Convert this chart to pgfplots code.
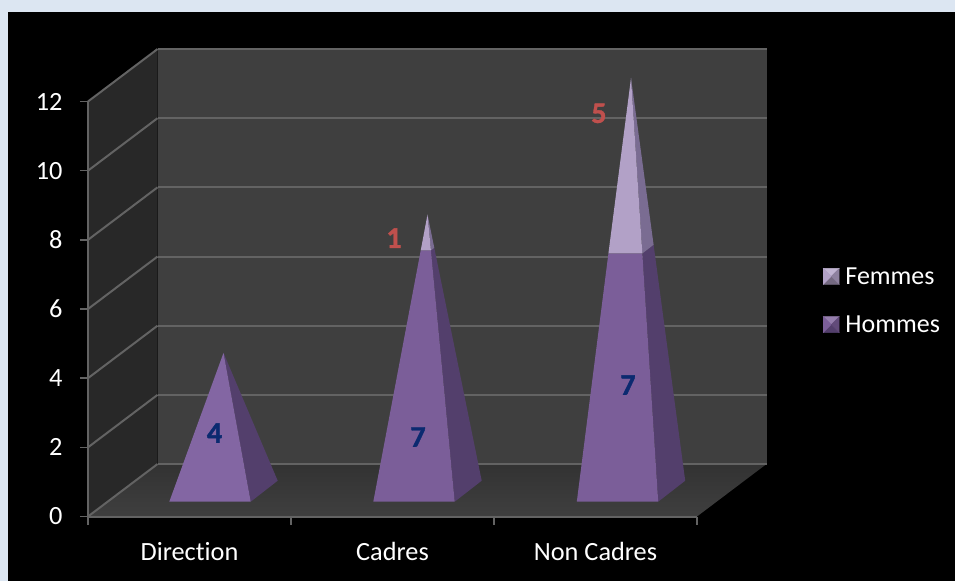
\documentclass[border=0pt]{standalone}
\usepackage{pgfplots}
\usepackage{fontspec}
\setmainfont[Ligatures=CommonOff]{Carlito}
\newfontfamily\lblfont[FakeBold=1.2]{Carlito Bold}
\pgfplotsset{compat=1.18}
\definecolor{pagebg}{HTML}{DCE6F2}
\definecolor{backwall}{HTML}{3F3F3F}
\definecolor{leftwall}{HTML}{282828}
\definecolor{gridc}{HTML}{636363}
\definecolor{homF}{HTML}{7B5E99}
\definecolor{homFa}{HTML}{8366A3}
\definecolor{homS}{HTML}{533F6C}
\definecolor{femF}{HTML}{B2A1C7}
\definecolor{femS}{HTML}{7A6C92}
\definecolor{lblblue}{HTML}{0B2A70}
\definecolor{lblred}{HTML}{C0504D}
\pgfplotsset{
  poly/.style={forget plot, draw=none, fill=#1, mark=none},
  gl/.style={forget plot, draw=gridc, line width=2pt, mark=none},
  pyrlegend/.style n args={4}{legend image code/.code={
    \fill[#1] (0pt,8pt) -- (16pt,8pt) -- (8pt,0pt) -- cycle;
    \fill[#2] (0pt,-8pt) -- (16pt,-8pt) -- (8pt,0pt) -- cycle;
    \fill[#3] (0pt,-8pt) -- (0pt,8pt) -- (8pt,0pt) -- cycle;
    \fill[#4] (16pt,-8pt) -- (16pt,8pt) -- (8pt,0pt) -- cycle;
  }},
}
\begin{document}
\begin{tikzpicture}[x=1pt,y=1pt]
\fill[pagebg] (0,0) rectangle (955,-581);
\fill[black] (8,-12) rectangle (955,-581);
\begin{axis}[
  at={(88pt,-516.5pt)}, anchor=south west,
  scale only axis, width=609pt, height=415pt,
  xmin=0, xmax=3, ymin=0, ymax=12,
  clip=false, axis on top,
  axis x line=bottom, axis y line=left,
  axis line style={draw=gridc, line width=2pt, -},
  tick style={draw=gridc, line width=1.6pt},
  major tick length=8pt,
  tick align=outside,
  xtick={0,1,2,3},
  x tick label as interval,
  xticklabels={Direction,Cadres,Non Cadres},
  ytick={0,2,4,6,8,10,12},
  /pgf/number format/assume math mode=true,
  tick label style={font=\fontsize{26.3}{30}\selectfont, text=white},
  xticklabel style={yshift=-14pt},
  yticklabel style={xshift=-14pt},
  legend style={at={(1.2066,0.5205)}, anchor=west, draw=none, fill=none,
    text=white, font=\fontsize{26}{30}\selectfont,
    inner sep=0pt, row sep=26pt, /tikz/every odd column/.style={column sep=4pt}},
  legend cell align=left,
]
% walls and floor
\addplot[poly=backwall] coordinates {(0.3424,1.517) (3.3424,1.517) (3.3424,13.517) (0.3424,13.517)} --cycle;
\addplot[poly=leftwall] coordinates {(0,0) (0.3424,1.517) (0.3424,13.517) (0,12)} --cycle;
\addplot[forget plot, draw=none, mark=none, top color=backwall!80!black, middle color=leftwall, bottom color=backwall] coordinates {(0,0) (3,0) (3.3424,1.517) (0.3424,1.517)} --cycle;
% grid on the back wall
\addplot[gl] coordinates {(0.3424,1.517) (3.3424,1.517)};
\addplot[gl] coordinates {(0.3424,3.517) (3.3424,3.517)};
\addplot[gl] coordinates {(0.3424,5.517) (3.3424,5.517)};
\addplot[gl] coordinates {(0.3424,7.517) (3.3424,7.517)};
\addplot[gl] coordinates {(0.3424,9.517) (3.3424,9.517)};
\addplot[gl] coordinates {(0.3424,11.517) (3.3424,11.517)};
\addplot[gl] coordinates {(0.3424,13.517) (3.3424,13.517)};
% grid on the left wall
\addplot[gl] coordinates {(0,0) (0.3424,1.517)};
\addplot[gl] coordinates {(0,2) (0.3424,3.517)};
\addplot[gl] coordinates {(0,4) (0.3424,5.517)};
\addplot[gl] coordinates {(0,6) (0.3424,7.517)};
\addplot[gl] coordinates {(0,8) (0.3424,9.517)};
\addplot[gl] coordinates {(0,10) (0.3424,11.517)};
\addplot[gl] coordinates {(0,12) (0.3424,13.517)};
% Direction: Hommes 4
\addplot[poly=homS]  coordinates {(0.8015,0.428) (0.9345,1.035) (0.6675,4.731)} --cycle;
\addplot[poly=homFa] coordinates {(0.4005,0.428) (0.8015,0.428) (0.6675,4.731)} --cycle;
% Cadres: Hommes 7, Femmes 1
\addplot[poly=homS]  coordinates {(1.8064,0.428) (1.9394,1.035) (1.7058,7.769) (1.6892,7.693)} --cycle;
\addplot[poly=homF]  coordinates {(1.4054,0.428) (1.8064,0.428) (1.6892,7.693) (1.6390,7.693)} --cycle;
\addplot[poly=femS]  coordinates {(1.6892,7.693) (1.7058,7.769) (1.6724,8.731)} --cycle;
\addplot[poly=femF]  coordinates {(1.6390,7.693) (1.6892,7.693) (1.6724,8.731)} --cycle;
% Non Cadres: Hommes 7, Femmes 5
\addplot[poly=homS]  coordinates {(2.8089,0.428) (2.9419,1.035) (2.7862,7.857) (2.7307,7.605)} --cycle;
\addplot[poly=homF]  coordinates {(2.4079,0.428) (2.8089,0.428) (2.7307,7.605) (2.5636,7.605)} --cycle;
\addplot[poly=femS]  coordinates {(2.7307,7.605) (2.7862,7.857) (2.6749,12.68)} --cycle;
\addplot[poly=femF]  coordinates {(2.5636,7.605) (2.7307,7.605) (2.6749,12.68)} --cycle;
% value labels
\addplot[forget plot, draw=none, mark=none, point meta=explicit symbolic,
  nodes near coords, nodes near coords style={anchor=center, text=lblblue, font=\fontsize{30}{32}\lblfont\selectfont}]
  coordinates {(0.6232,2.413)[4] (1.6256,2.298)[7] (2.660,3.80)[7]};
\addplot[forget plot, draw=none, mark=none, point meta=explicit symbolic,
  nodes near coords, nodes near coords style={anchor=center, text=lblred, font=\fontsize{30}{32}\lblfont\selectfont}]
  coordinates {(1.507,8.05)[1] (2.517,11.66)[5]};
% legend
\addlegendimage{pyrlegend={femF!80!white}{femF!65!black}{femF}{femF!80!black}}
\addlegendentry{Femmes}
\addlegendimage{pyrlegend={homF!80!white}{homS}{homF}{homF!80!black}}
\addlegendentry{Hommes}
\end{axis}
\end{tikzpicture}
\end{document}
